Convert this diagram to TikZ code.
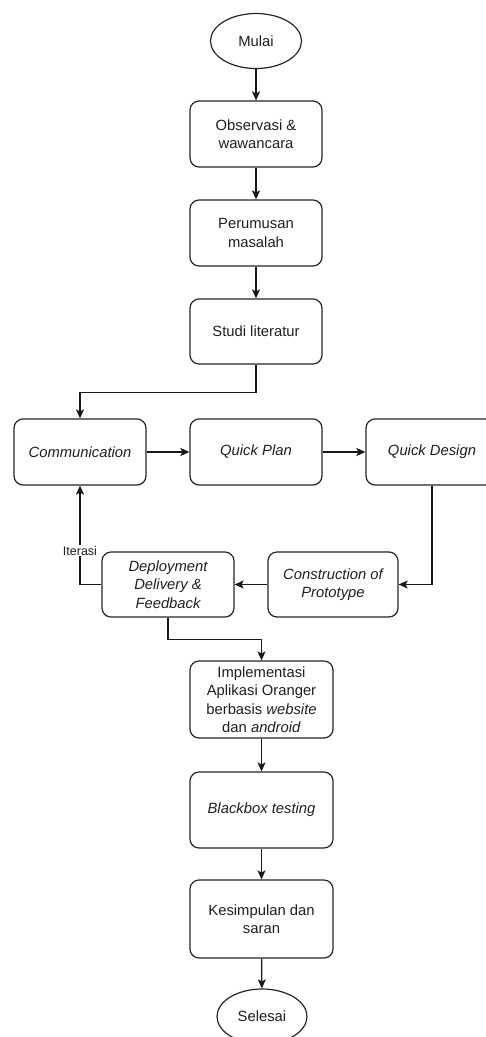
\documentclass[tikz,border=0pt]{standalone}
\usepackage{fontspec}
\setmainfont{Liberation Sans}
\usetikzlibrary{arrows.meta,shapes.geometric}
\begin{document}
\begin{tikzpicture}[x=1pt,y=-1pt,
  font=\fontsize{14.8}{18.5}\selectfont,
  every node/.style={text=black!88},
  proc/.style={draw=black!85, line width=1.2pt, rounded corners=9pt, align=center, inner sep=0pt, minimum width=132pt, minimum height=66pt},
  wide/.style={proc, minimum width=143pt},
  term/.style={draw=black!85, line width=1.2pt, ellipse, inner sep=0pt, minimum width=91pt, minimum height=55pt},
  arr/.style={draw=black!90, line width=1.2pt, -{Stealth[length=9pt,width=8pt,inset=2pt]}},
  lbl/.style={fill=white, inner sep=1pt, font=\fontsize{12.5}{14}\selectfont}
]
\path[use as bounding box, clip] (0,0) rectangle (486,1037);
\fill[white] (0,0) rectangle (486,1037);

\node[term] (mulai) at (256,41) {Mulai};
\node[proc] (obs) at (256,134) {Observasi \&\\wawancara};
\node[proc] (rum) at (256,233) {Perumusan\\masalah};
\node[proc, minimum height=65pt] (studi) at (256,331.5) {Studi literatur};
\node[proc] (comm) at (80,452) {\itshape Communication};
\node[proc] (qp) at (256,452) {\itshape Quick Plan};
\node[proc] (qd) at (432,452) {\itshape Quick Design};
\node[proc, minimum height=65pt] (dep) at (168,584.5) {\itshape Deployment\\\itshape Delivery \&\\\itshape Feedback};
\node[proc, minimum width=130pt, minimum height=65pt] (cons) at (333,584.5) {\itshape Construction of\\\itshape Prototype};
\node[wide, minimum height=77pt] (impl) at (261.5,699.5) {Implementasi\\Aplikasi Oranger\\berbasis \textit{website}\\dan \textit{android}};
\node[wide, minimum height=76pt] (bb) at (261.5,810) {\itshape Blackbox testing};
\node[wide, minimum height=78pt] (kes) at (261.5,919) {Kesimpulan dan\\saran};
\node[term, minimum width=90pt] (sel) at (262,1016.5) {Selesai};

\draw[arr] (mulai) -- (obs);
\draw[arr] (obs) -- (rum);
\draw[arr] (rum) -- (studi);
\draw[arr] (studi.south) -- ++(0,28) -| (comm.north);
\draw[arr] (comm) -- (qp);
\draw[arr] (qp) -- (qd);
\draw[arr] (qd.south) |- (cons.east);
\draw[arr] (cons) -- (dep);
\draw[arr] (dep.west) -| (comm.south) node[pos=0.67, lbl] {Iterasi};
\draw[arr] (dep.south) -- ++(0,22) -| (impl.north);
\draw[arr] (impl) -- (bb);
\draw[arr] (bb) -- (kes);
\draw[arr] (kes) -- (sel);
\end{tikzpicture}
\end{document}
